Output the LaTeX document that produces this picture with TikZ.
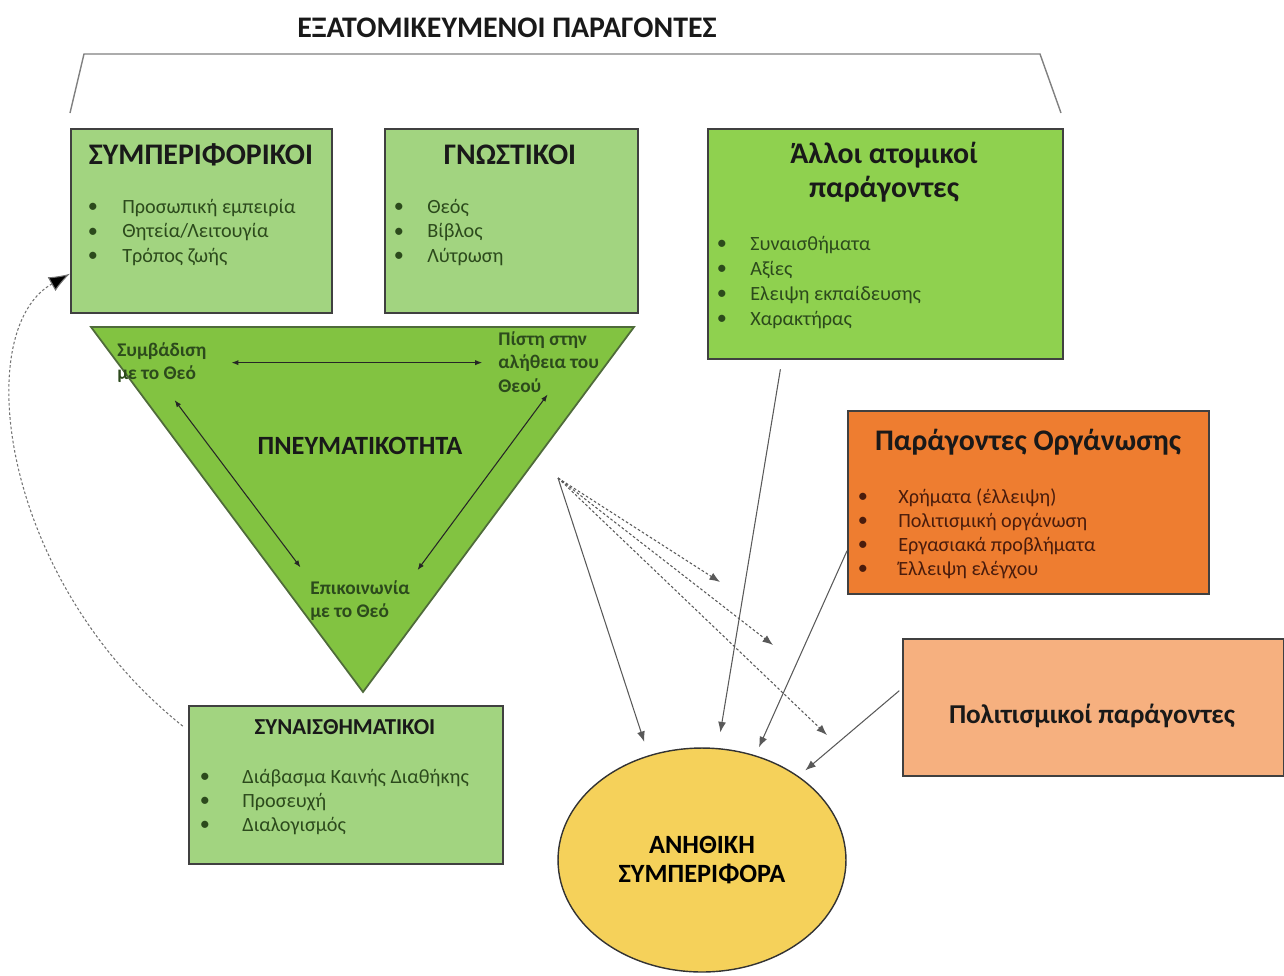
\documentclass[tikz,border=0pt]{standalone}
\usepackage{fontspec}
\setmainfont{Carlito}
\usetikzlibrary{arrows.meta,shapes.geometric}

\definecolor{boxgreen}{HTML}{A2D480}
\definecolor{leafgreen}{HTML}{8FD14F}
\definecolor{trigreen}{HTML}{82C341}
\definecolor{triline}{HTML}{4F6B3A}
\definecolor{orgorange}{HTML}{EE7D30}
\definecolor{peach}{HTML}{F6B07F}
\definecolor{gold}{HTML}{F5D15A}
\definecolor{inkgreen}{HTML}{2C4A1C}
\definecolor{inkbrown}{HTML}{4A1C0C}

\tikzset{
  box/.style={draw=black!75, line width=1pt, anchor=north west, inner sep=0pt},
  head/.style={font=\bfseries\fontsize{17}{20}\selectfont, text=black!90, align=center},
  item/.style={font=\fontsize{11.5}{13}\selectfont, anchor=west, inner sep=0pt, text=inkgreen},
  dot/.style={font=\fontsize{11.5}{13}\selectfont, inner sep=0pt, text=inkgreen},
  vertex/.style={font=\bfseries\fontsize{11}{13.5}\selectfont, align=left, anchor=north west, inner sep=0pt, text=inkgreen},
  tri/.style={{Latex[length=4pt,width=3pt]}-{Latex[length=4pt,width=3pt]}, line width=0.6pt, black!85},
  link/.style={-{Latex[length=6pt,width=4.5pt]}, line width=0.6pt, black!65},
  hint/.style={link, dash pattern=on 1.5pt off 1.2pt},
}

\begin{document}
\begin{tikzpicture}[x=0.02cm, y=-0.02cm]
    \useasboundingbox (0,0) rectangle (1284,975);

    % Header
    \node[head] (title) at (507,28) {ΕΞΑΤΟΜΙΚΕΥΜΕΝΟΙ ΠΑΡΑΓΟΝΤΕΣ};
    \draw[gray, line width=0.8pt] (70,113) -- (84,54) -- (1040,54) -- (1061,113);

    % Individual factors
    %% behavioural
    \node[box, fill=boxgreen, minimum width=5.22cm, minimum height=3.68cm] (behav) at (70,128) {};
    \node[head] (behavhead) at (201,155) {ΣΥΜΠΕΡΙΦΟΡΙΚΟΙ};
    \foreach \txt [count=\i from 0] in {Προσωπική εμπειρία, Θητεία/Λειτουγία, Τρόπος ζωής} {
        \node[dot] (behavdot\i) at (93, 208+24.5*\i) {•};
        \node[item] (behavitem\i) at (122, 208+24.5*\i) {\txt};
    }
    %% cognitive
    \node[box, fill=boxgreen, minimum width=5.06cm, minimum height=3.68cm] (cogn) at (384,128) {};
    \node[head] (cognhead) at (510,155) {ΓΝΩΣΤΙΚΟΙ};
    \foreach \txt [count=\i from 0] in {Θεός, Βίβλος, Λύτρωση} {
        \node[dot] (cogndot\i) at (399, 208+24.5*\i) {•};
        \node[item] (cognitem\i) at (427, 208+24.5*\i) {\txt};
    }
    %% other
    \node[box, fill=leafgreen, minimum width=7.10cm, minimum height=4.60cm] (other) at (707,128) {};
    \node[head, font=\bfseries\fontsize{17}{19}\selectfont] (otherhead) at (884,172) {Άλλοι ατομικοί\\παράγοντες};
    \foreach \txt [count=\i from 0] in {Συναισθήματα, Αξίες, Ελειψη εκπαίδευσης, Χαρακτήρας} {
        \node[dot] (otherdot\i) at (722, 245+25*\i) {•};
        \node[item] (otheritem\i) at (750, 245+25*\i) {\txt};
    }

    % Spirituality
    \filldraw[fill=trigreen, draw=triline, line width=1pt] (91,327) -- (634,327) -- (363,692) -- cycle;
    \node[head, font=\bfseries\fontsize{15}{18}\selectfont] (spirit) at (360,446) {ΠΝΕΥΜΑΤΙΚΟΤΗΤΑ};
    \node[vertex] (walk) at (117,342) {Συμβάδιση\\με το Θεό};
    \node[vertex] (faith) at (498,331) {Πίστη στην\\αλήθεια του\\Θεού};
    \node[vertex] (comm) at (310,580) {Επικοινωνία\\με το Θεό};
    \draw[tri, shorten <=14pt, shorten >=9pt] (walk.east) -- (walk.east -| faith.west);
    \draw[tri, shorten <=12pt, shorten >=9pt] (walk.south) -- (comm.north west);
    \draw[tri, shorten <=1pt, shorten >=7pt] (faith.south) -- (comm.north east);

    % Emotional
    \node[box, fill=boxgreen, minimum width=6.28cm, minimum height=3.16cm] (emot) at (188,705) {};
    \node[head, font=\bfseries\fontsize{13}{15}\selectfont] (emothead) at (345,727) {ΣΥΝΑΙΣΘΗΜΑΤΙΚΟΙ};
    \foreach \txt [count=\i from 0] in {Διάβασμα Καινής Διαθήκης, Προσευχή, Διαλογισμός} {
        \node[dot] (emotdot\i) at (205, 778+24*\i) {•};
        \node[item] (emotitem\i) at (242, 778+24*\i) {\txt};
    }

    % Organisation and culture
    \node[box, fill=orgorange, minimum width=7.22cm, minimum height=3.66cm] (org) at (847,410) {};
    \node[head] (orghead) at (1028,442) {Παράγοντες Οργάνωσης};
    \foreach \txt [count=\i from 0] in {Χρήματα (έλλειψη), Πολιτισμική οργάνωση, Εργασιακά προβλήματα, Έλλειψη ελέγχου} {
        \node[dot, text=inkbrown] (orgdot\i) at (863, 498+24*\i) {•};
        \node[item, text=inkbrown] (orgitem\i) at (898, 498+24*\i) {\txt};
    }
    \node[box, fill=peach, minimum width=7.62cm, minimum height=2.74cm] (cult) at (902,638) {};
    \node[head, font=\bfseries\fontsize{15.5}{18}\selectfont] (culthead) at (1092,716) {Πολιτισμικοί παράγοντες};

    % Unethical behaviour
    \node[ellipse, draw=black!80, fill=gold, line width=0.8pt, minimum width=5.76cm, minimum height=4.48cm,
          inner sep=0pt, align=center, font=\bfseries\fontsize{15}{17}\selectfont] (bad) at (702,860)
          {ΑΝΗΘΙΚΗ\\ΣΥΜΠΕΡΙΦΟΡΑ};

    % Influences
    \coordinate (fan) at (558,478);
    \coordinate (fanA) at (720,582);
    \coordinate (fanB) at (773,645);
    \coordinate (fanC) at (827,735);
    \draw[link, shorten >=8pt] (fan) -- (bad.117);
    \foreach \p in {fanA, fanB, fanC} {
        \draw[hint] (fan) -- (\p);
    }
    \draw[link, shorten <=5.5pt, shorten >=9pt] ([xshift=1.5cm]other.south west) -- (bad.82);
    \draw[link, shorten >=5pt] ([yshift=-0.97cm]org.west) -- (bad.63);
    \draw[link, shorten <=2pt, shorten >=5pt] ([yshift=0.38cm]cult.west) -- (bad.41);

    % Feedback
    \draw[black!55, line width=0.6pt, dash pattern=on 1.5pt off 1.2pt, -{Latex[length=12pt,width=9pt,fill=black]}]
        ([xshift=-3pt,yshift=-12pt]emot.north west) .. controls (0,580) and (-30,330) .. ([yshift=0.8cm]behav.south west);
\end{tikzpicture}
\end{document}
